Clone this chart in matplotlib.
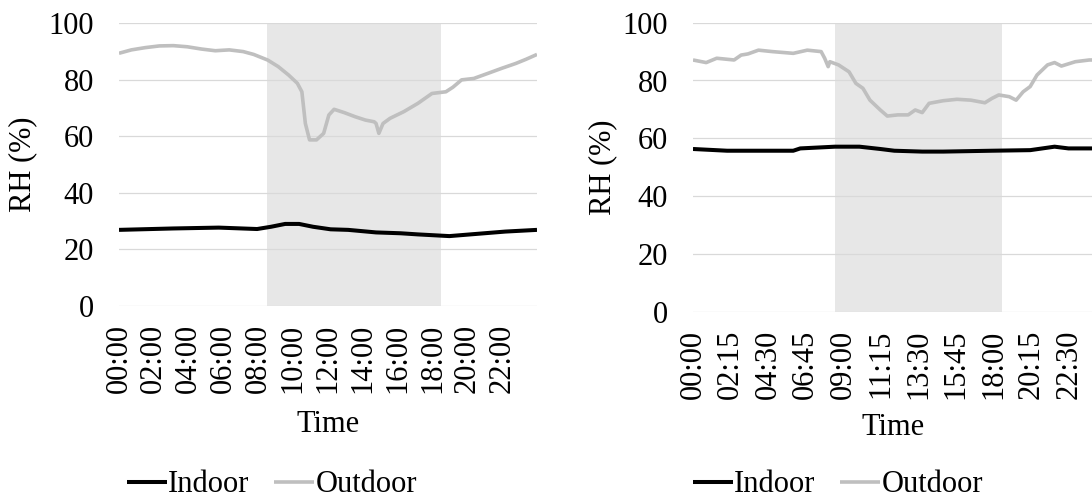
import numpy as np
import matplotlib
matplotlib.use("Agg")
import matplotlib.pyplot as plt

plt.rcParams['font.family'] = ['Liberation Serif', 'DejaVu Serif']

# left panel (hourly ticks every 2 h)
left_out_h = [0, 0.71, 1.51, 2.32, 3.12, 3.92, 4.73, 5.53, 6.33, 7.13, 7.73, 8.54,
              9.14, 9.74, 10.24, 10.50, 10.70, 10.94, 11.34, 11.75, 12.05, 12.35,
              12.95, 13.55, 14.15, 14.65, 14.76, 14.92, 15.16, 15.56, 16.36, 17.16,
              17.97, 18.77, 19.17, 19.67, 20.37, 21.18, 21.98, 22.78, 23.38, 24.0]
left_out_rh = [89.3, 90.5, 91.3, 91.9, 92.0, 91.6, 90.8, 90.2, 90.5, 89.9, 88.9, 86.9,
               84.6, 81.6, 78.7, 75.7, 64.5, 58.7, 58.7, 61.0, 67.5, 69.5,
               68.3, 66.9, 65.7, 65.1, 64.5, 61.0, 64.5, 66.3, 68.7, 71.6,
               75.1, 75.7, 77.3, 79.9, 80.4, 82.2, 84.0, 85.7, 87.2, 88.9]
left_in_h = [0, 3.12, 5.73, 7.93, 8.73, 9.54, 10.34, 11.14, 12.15, 13.16, 14.76,
             16.17, 17.16, 18.97, 20.17, 22.18, 24.0]
left_in_rh = [26.9, 27.4, 27.7, 27.2, 28.0, 29.0, 29.0, 28.0, 27.1, 26.9, 26.0,
              25.7, 25.3, 24.7, 25.3, 26.3, 26.9]
left_ticks = [0, 2, 4, 6, 8, 10, 12, 14, 16, 18, 20, 22]
left_labels = ['00:00', '02:00', '04:00', '06:00', '08:00', '10:00',
               '12:00', '14:00', '16:00', '18:00', '20:00', '22:00']

# right panel (ticks every 2 h 15 min)
right_out_h = [0, 0.79, 1.42, 2.46, 2.88, 3.29, 3.92, 4.75, 6.0, 6.84, 7.67, 7.88,
               8.09, 8.19, 8.71, 9.34, 9.75, 10.17, 10.59, 11.21, 11.63, 12.26,
               12.88, 13.30, 13.72, 14.13, 14.97, 15.80, 16.63, 17.47, 17.89, 18.30,
               18.93, 19.34, 19.76, 20.18, 20.59, 21.22, 21.64, 22.05, 22.88, 23.72, 24.0]
right_out_rh = [87.1, 86.2, 87.7, 87.1, 88.8, 89.2, 90.5, 90.0, 89.4, 90.5, 90.0, 87.7,
                84.8, 86.5, 85.4, 83.0, 79.0, 77.3, 73.2, 69.8, 67.7, 68.1,
                68.1, 69.8, 68.9, 72.1, 73.0, 73.5, 73.2, 72.3, 73.8, 75.0,
                74.4, 73.2, 76.1, 77.9, 81.9, 85.4, 86.2, 85.0, 86.5, 87.1, 87.1]
right_in_h = [0, 2.04, 6.0, 6.42, 8.5, 9.96, 11.21, 12.05, 13.72, 14.97, 17.89,
              20.18, 21.64, 22.47, 24.0]
right_in_rh = [56.3, 55.7, 55.7, 56.5, 57.1, 57.1, 56.3, 55.7, 55.4, 55.4, 55.7,
               55.9, 57.1, 56.5, 56.5]
right_ticks = [0, 2.25, 4.5, 6.75, 9, 11.25, 13.5, 15.75, 18, 20.25, 22.5]
right_labels = ['00:00', '02:15', '04:30', '06:45', '09:00', '11:15',
                '13:30', '15:45', '18:00', '20:15', '22:30']

day_start, day_end = 8.5, 18.5

W, H = 1092, 500
FS = 22
fig = plt.figure(figsize=(W / 100, H / 100), dpi=100)


def panel(rect, in_h, in_rh, out_h, out_rh, ticks, labels, legend_x, xlabelpad, ylabelpad):
    ax = fig.add_axes(rect)
    ax.axvspan(day_start, day_end, color='#E7E7E7', lw=0, zorder=0.5)
    ax.plot(in_h, in_rh, color='black', lw=2.9, label='Indoor', zorder=3,
            solid_capstyle='butt')
    ax.plot(out_h, out_rh, color='#BFBFBF', lw=2.6, label='Outdoor', zorder=3,
            solid_capstyle='butt')
    ax.set_xlim(0, 24)
    ax.set_ylim(0, 100)
    ax.set_yticks([0, 20, 40, 60, 80, 100])
    ax.set_xticks(ticks)
    ax.set_xticklabels(labels, rotation=90)
    ax.tick_params(axis='both', length=0, labelsize=FS)
    ax.tick_params(axis='y', pad=18)
    ax.tick_params(axis='x', pad=13)
    ax.grid(axis='y', color='#D9D9D9', lw=0.9)
    for s in ax.spines.values():
        s.set_visible(False)
    ax.set_xlabel('Time', fontsize=FS, labelpad=xlabelpad)
    ax.set_ylabel('RH (%)', fontsize=FS, labelpad=ylabelpad)
    handles, labs = ax.get_legend_handles_labels()
    fig.legend(handles, labs, loc='center', bbox_to_anchor=(legend_x, 1 - 485 / H),
               ncol=2, frameon=False, fontsize=FS, handlelength=1.3,
               handletextpad=0.05, columnspacing=0.8)
    return ax


panel([119 / W, 1 - 306 / H, 418 / W, 283 / H],
      left_in_h, left_in_rh, left_out_h, left_out_rh, left_ticks, left_labels,
      272 / W, 12, 8)
panel([693 / W, 1 - 311.7 / H, 401 / W, 289 / H],
      right_in_h, right_in_rh, right_out_h, right_out_rh, right_ticks, right_labels,
      838 / W, 10, 4)

fig.savefig('out.png', dpi=100)
